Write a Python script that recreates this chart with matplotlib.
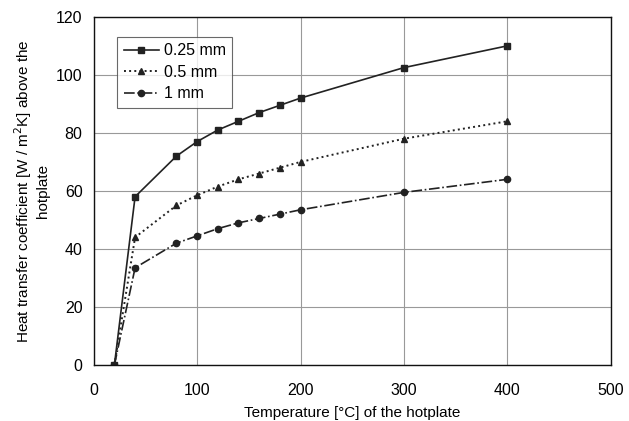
import matplotlib
matplotlib.use('Agg')
import matplotlib.pyplot as plt

plt.rcParams['font.family'] = ['Liberation Sans', 'DejaVu Sans']

temps = [20, 40, 80, 100, 120, 140, 160, 180, 200, 300, 400]
h_025 = [0, 58, 72, 77, 81, 84, 87, 89.5, 92, 102.5, 110]
h_05 = [0, 44, 55, 58.5, 61.5, 64, 66, 68, 70, 78, 84]
h_1 = [0, 33.5, 42, 44.5, 47, 49, 50.5, 52, 53.5, 59.5, 64]

fig = plt.figure(figsize=(6.29, 4.21), dpi=100)
ax = fig.add_axes([0.149, 0.133, 0.822, 0.827])

ax.plot(temps, h_025, '-', color='#222222', marker='s', markersize=4.5, linewidth=1.2, label='0.25 mm')
ax.plot(temps, h_05, ':', color='#222222', marker='^', markersize=4.5, linewidth=1.4, label='0.5 mm')
ax.plot(temps, h_1, '-.', color='#222222', marker='o', markersize=4.5, linewidth=1.2, label='1 mm')

ax.set_xlim(0, 500)
ax.set_ylim(0, 120)
ax.set_xticks([0, 100, 200, 300, 400, 500])
ax.set_yticks([0, 20, 40, 60, 80, 100, 120])
ax.grid(True, color='#999999', linewidth=0.8)
ax.tick_params(length=0, labelsize=11.5)
ax.tick_params(axis='x', pad=13)
ax.tick_params(axis='y', pad=8)
for s in ax.spines.values():
    s.set_color('#111111')
    s.set_linewidth(1.0)

ax.set_xlabel('Temperature [°C] of the hotplate', fontsize=11, labelpad=6)
ax.set_ylabel('Heat transfer coefficient [W / m$^2$K] above the\nhotplate', fontsize=11)

leg = ax.legend(loc='upper left', bbox_to_anchor=(0.03, 0.965), fontsize=11.5,
                frameon=True, fancybox=False, edgecolor='#444444',
                handlelength=2.2, handletextpad=0.3, labelspacing=0.4, borderpad=0.4)
leg.get_frame().set_linewidth(0.8)

plt.savefig('out.png', dpi=100)
